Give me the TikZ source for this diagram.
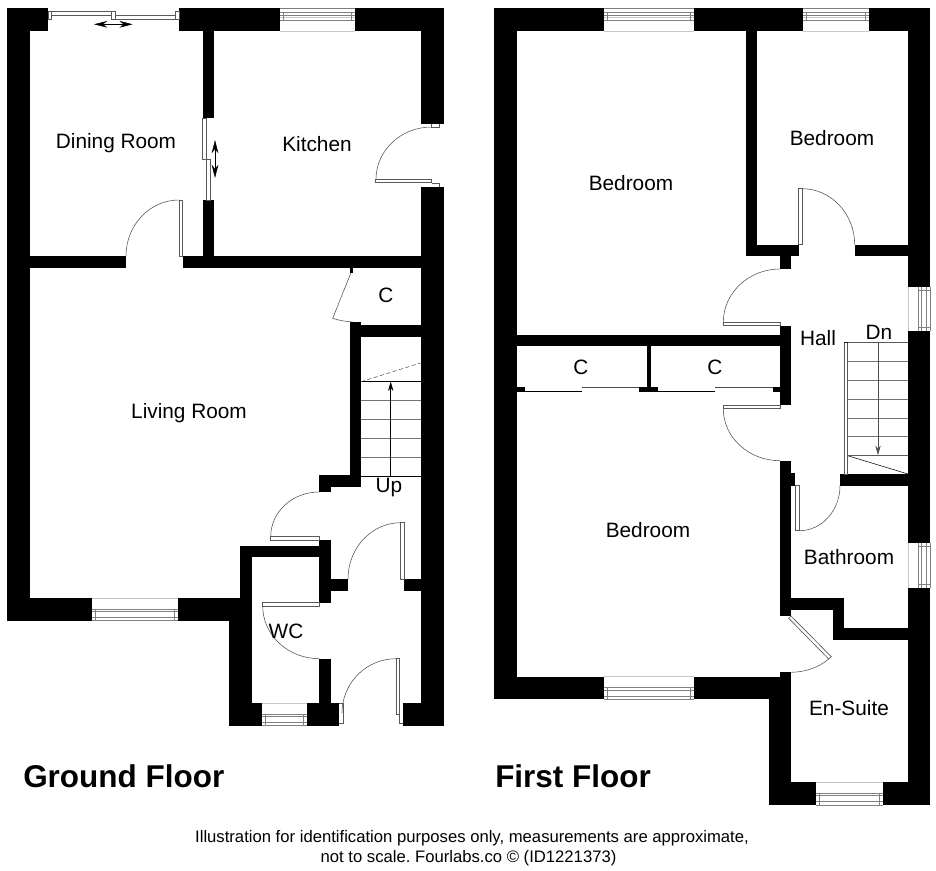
\documentclass[tikz,border=0pt]{standalone}
\usepackage{fontspec}
\setmainfont{Liberation Sans}
\usetikzlibrary{arrows.meta}
\frenchspacing
\tikzset{
    wall-block/.style = {fill=black, draw=none},
    door-leaf/.style = {draw=black!65, fill=white, line width=0.5pt},
    door-frame/.style = {draw=black!65, line width=0.5pt},
    door-swing/.style = {draw=black!70, line width=0.4pt},
    glass-line/.style = {draw=black!50, line width=0.5pt},
    glass-edge/.style = {draw=black!22, line width=0.4pt},
    tread-line/.style = {draw=black!55, line width=0.5pt},
    move-arrow/.style = {{Stealth[length=10pt,width=5pt]}-{Stealth[length=10pt,width=5pt]}, line width=0.4pt},
    room-label/.style = {font=\fontsize{15.6pt}{18pt}\selectfont, inner sep=0pt},
    floor-title/.style = {font=\fontsize{23.6pt}{28pt}\selectfont\bfseries, inner sep=0pt, anchor=west},
    note-text/.style = {font=\fontsize{12.5pt}{15pt}\selectfont, inner sep=0pt},
}
\begin{document}
\begin{tikzpicture}[x=0.75pt, y=-0.75pt]
\useasboundingbox (0,0) rectangle (936,871);

% ground floor walls
\foreach \xa/\ya/\xb/\yb in {7.3/8/48/31, 7.3/8/30/621, 7.3/598/92/621, 178/598/251.7/621,
    179/8/280/31, 355/8/444/31, 203/31/214/118, 203/200/214/256,
    421/31/444/124, 421/187/444/726, 7.3/256/126/268, 183/256/444/268,
    350/268/353/273, 350/325/421/337, 350/322/361/487, 319/475/361/487, 319/475/331/492,
    240/545.7/331/557, 240/545.7/251.7/600, 319/540/331/603, 331/579/348/591, 404/579/421/591,
    229/600/251.7/726, 229/703/262.3/726, 306.7/703/339.3/726, 319/658.7/331/703, 403.3/703/421/726}
    \fill[wall-block] (\xa,\ya) rectangle (\xb,\yb);

% first floor walls
\foreach \xa/\ya/\xb/\yb in {494/8/604/31, 694/8/803/31, 869/8/930.3/31, 494/8/516.7/699.3,
    494/676.7/604/699.3, 694/676.7/791.3/699.3, 746/31/757.3/256, 746/244.7/798.7/256,
    780/256/791.3/269, 854.7/244.7/908/256, 908/31/930.3/286.7, 908/331.3/930.3/542.7,
    908/587.7/930.3/805, 780/325.7/791.3/404.7, 516.7/335/780/346.3, 646.7/346.3/650.7/388,
    639/387.3/657.7/391.7, 516.7/387.3/524.7/391.7, 772.7/387.3/780.7/391.7,
    780/460.7/791.3/616, 791.3/473.3/795/485.7, 840/474/908/485.7,
    791.3/598.3/844/609.7, 832.7/598.3/844/640, 832.7/628.3/908/640,
    780/672.3/791.3/699.3, 768.7/690/791.3/805, 768.7/782.3/816/805, 883.3/782.3/930.3/805}
    \fill[wall-block] (\xa,\ya) rectangle (\xb,\yb);

% windows
\foreach \xa/\xb in {280/355, 604/694, 803/869} {
    \draw[glass-edge] (\xa,31) -- (\xb,31);
    \draw[glass-line] (\xa,8.3) -- (\xb,8.3) (\xa,20) -- (\xb,20) (\xa,12) -- (\xb,12) (\xa,15) -- (\xb,15);
    \draw[glass-edge] (\xa,17.5) -- (\xb,17.5);
    \draw[glass-line] (\xa+3.5,12) -- (\xa+3.5,20) (\xb-3.5,12) -- (\xb-3.5,20);
}
\foreach \xa/\xb/\ya/\yb in {92/178/598/620.7, 604/694/676.7/699.3, 262.3/306.7/703/725.7, 816/883.3/782.3/805} {
    \draw[glass-edge] (\xa,\ya) -- (\xb,\ya);
    \draw[glass-line] (\xa,\yb-11.7) -- (\xb,\yb-11.7) (\xa,\yb-9.2) -- (\xb,\yb-9.2) (\xa,\yb-3.2) -- (\xb,\yb-3.2) (\xa,\yb) -- (\xb,\yb);
    \draw[glass-line] (\xa+3.5,\yb-11.7) -- (\xa+3.5,\yb) (\xb-3.5,\yb-11.7) -- (\xb-3.5,\yb);
}
\foreach \ya/\yb in {286.7/331.3, 542.7/587.7} {
    \draw[glass-edge] (908,\ya) -- (908,\yb);
    \draw[glass-line] (918.7,\ya) -- (918.7,\yb) (921,\ya) -- (921,\yb) (926.7,\ya) -- (926.7,\yb) (930.3,\ya) -- (930.3,\yb);
    \draw[glass-line] (918.7,\ya+3.5) -- (930.3,\ya+3.5) (918.7,\yb-3.5) -- (930.3,\yb-3.5);
}

% patio and sliding doors
\draw[door-leaf] (48,11.7) rectangle (51.7,19.3);
\draw[door-leaf] (51.7,11.7) rectangle (111,15.7);
\draw[door-leaf] (111,11.7) rectangle (115.7,19.3);
\draw[door-leaf] (115.7,15.7) rectangle (175.7,19.3);
\draw[door-leaf] (175.7,11.7) rectangle (179,19.3);
\draw[move-arrow] (94,24.3) -- (132.7,24.3);
\draw[door-leaf] (202.7,118) rectangle (206.7,159);
\draw[door-leaf] (206.7,159) rectangle (210.7,200);
\draw[move-arrow] (215,140) -- (215,178);

% swing doors, ground floor
\draw[door-leaf] (375.3,179.3) rectangle (431.7,182.7);
\draw[door-frame] (431.7,183) -- (439.3,183) -- (439.3,187);
\draw[door-frame] (431.7,124) -- (431.7,127.3) -- (439.3,127.3) -- (439.3,124);
\draw[door-swing] (376,179.3) arc[start angle=180, end angle=270, x radius=55.7, y radius=52.3];
\draw[door-leaf] (179,200) rectangle (182.7,256);
\draw[door-swing] (126,256) arc[start angle=180, end angle=270, x radius=53, y radius=56];
\draw[door-swing] (351,272.7) -- (332.7,318.3) .. controls (339,320.5) and (346,321.5) .. (352.7,322);
\draw[door-leaf] (270.7,536.7) rectangle (319.3,540.7);
\draw[door-swing] (319,492) arc[start angle=270, end angle=180, x radius=48.3, y radius=44.7];
\draw[door-leaf] (400.7,522.7) rectangle (404,579);
\draw[door-swing] (348,579) arc[start angle=180, end angle=270, x radius=52.7, y radius=56.3];
\draw[door-leaf] (262.7,602.7) rectangle (319.3,606);
\draw[door-swing] (262.7,606) arc[start angle=180, end angle=90, x radius=56.6, y radius=52.7];
\draw[door-leaf] (396,658.7) rectangle (399.3,714.7);
\draw[door-frame] (399.3,714.7) -- (399.3,723) -- (403.3,723);
\draw[door-frame] (339.3,703) -- (343,703) -- (343,723) -- (339.3,723);
\draw[door-swing] (342,713) arc[start angle=180, end angle=270, x radius=54, y radius=54.3];

% swing doors, first floor
\draw[door-leaf] (798.7,188.7) rectangle (802,244.7);
\draw[door-swing] (802,188.7) arc[start angle=270, end angle=360, x radius=52.7, y radius=56];
\draw[door-leaf] (723.3,322.3) rectangle (780,325.7);
\draw[door-swing] (723.3,322.3) arc[start angle=180, end angle=270, x radius=56.7, y radius=53.3];
\draw[door-leaf] (723.3,405) rectangle (780,408.7);
\draw[door-swing] (723.3,408.7) arc[start angle=180, end angle=90, x radius=56.7, y radius=52];
\draw[door-leaf] (795,485.7) rectangle (799.3,530.7);
\draw[door-swing] (799.3,530.7) arc[start angle=90, end angle=0, x radius=40.7, y radius=45];
\draw[door-leaf] (788.7,618.3) -- (791,616) -- (831.3,656.7) -- (828.7,659) -- cycle;
\draw[door-swing] (828.7,659) .. controls (818,668) and (805,672) .. (791.3,672.3);

% cupboard sliders
\draw[door-swing, draw=black] (524.7,391) -- (582,391) (657.7,391) -- (715.3,391);
\draw[door-swing, line width=0.6pt] (582,387.7) -- (639,387.7) (715.3,387.7) -- (772.7,387.7);

% stairs
\foreach \ya in {400.3, 419, 438, 457}
    \draw[tread-line] (361,\ya) -- (420.5,\ya);
\draw[door-swing, draw=black] (361,381.7) -- (420.5,381.7) (361,476) -- (420.5,476);
\draw[door-swing, densely dashed] (361,381.7) -- (420.5,363);
\draw[-{Stealth[length=7pt,width=4pt]}, line width=0.4pt] (390.7,476) -- (390.7,381.7);
\draw[door-leaf] (844,342.3) rectangle (847.7,474);
\foreach \ya in {361.3, 380, 399.3, 418.3, 436.7}
    \draw[tread-line] (847.7,\ya) -- (908,\ya);
\draw[door-swing, draw=black] (844,342.3) -- (908,342.3) (847.7,455.7) -- (908,455.7) (847.7,455.7) -- (908,474);
\draw[-{Stealth[length=7pt,width=4pt]}, line width=0.4pt, draw=black!70] (878,342.3) -- (878,455);

% room names
\node[room-label] (dining) at (116,143) {Dining Room};
\node[room-label] (kitchen) at (317,144) {Kitchen};
\node[room-label] (cupboard-down) at (386,295.5) {C};
\node[room-label] (living) at (189,413) {Living Room};
\node[room-label] (stair-up) at (389,487) {Up};
\node[room-label] (wc) at (286,631) {WC};
\node[room-label] (bedroom-back) at (631,183) {Bedroom};
\node[room-label] (bedroom-small) at (832,138) {Bedroom};
\node[room-label] (hall) at (818,338) {Hall};
\node[room-label] (stair-down) at (879,332) {Dn};
\node[room-label] (cupboard-left) at (581,367) {C};
\node[room-label] (cupboard-right) at (715,367) {C};
\node[room-label] (bedroom-front) at (648,530) {Bedroom};
\node[room-label] (bathroom) at (849,557) {Bathroom};
\node[room-label] (ensuite) at (849,708) {En-Suite};

\node[floor-title] (ground-title) at (23,776) {Ground Floor};
\node[floor-title] (first-title) at (495,776) {First Floor};
\node[note-text] (note-top) at (472,838) {Illustration for identification purposes only, measurements are approximate,};
\node[note-text] (note-bottom) at (468.5,858) {not to scale. Fourlabs.co © (ID1221373)};
\end{tikzpicture}
\end{document}
